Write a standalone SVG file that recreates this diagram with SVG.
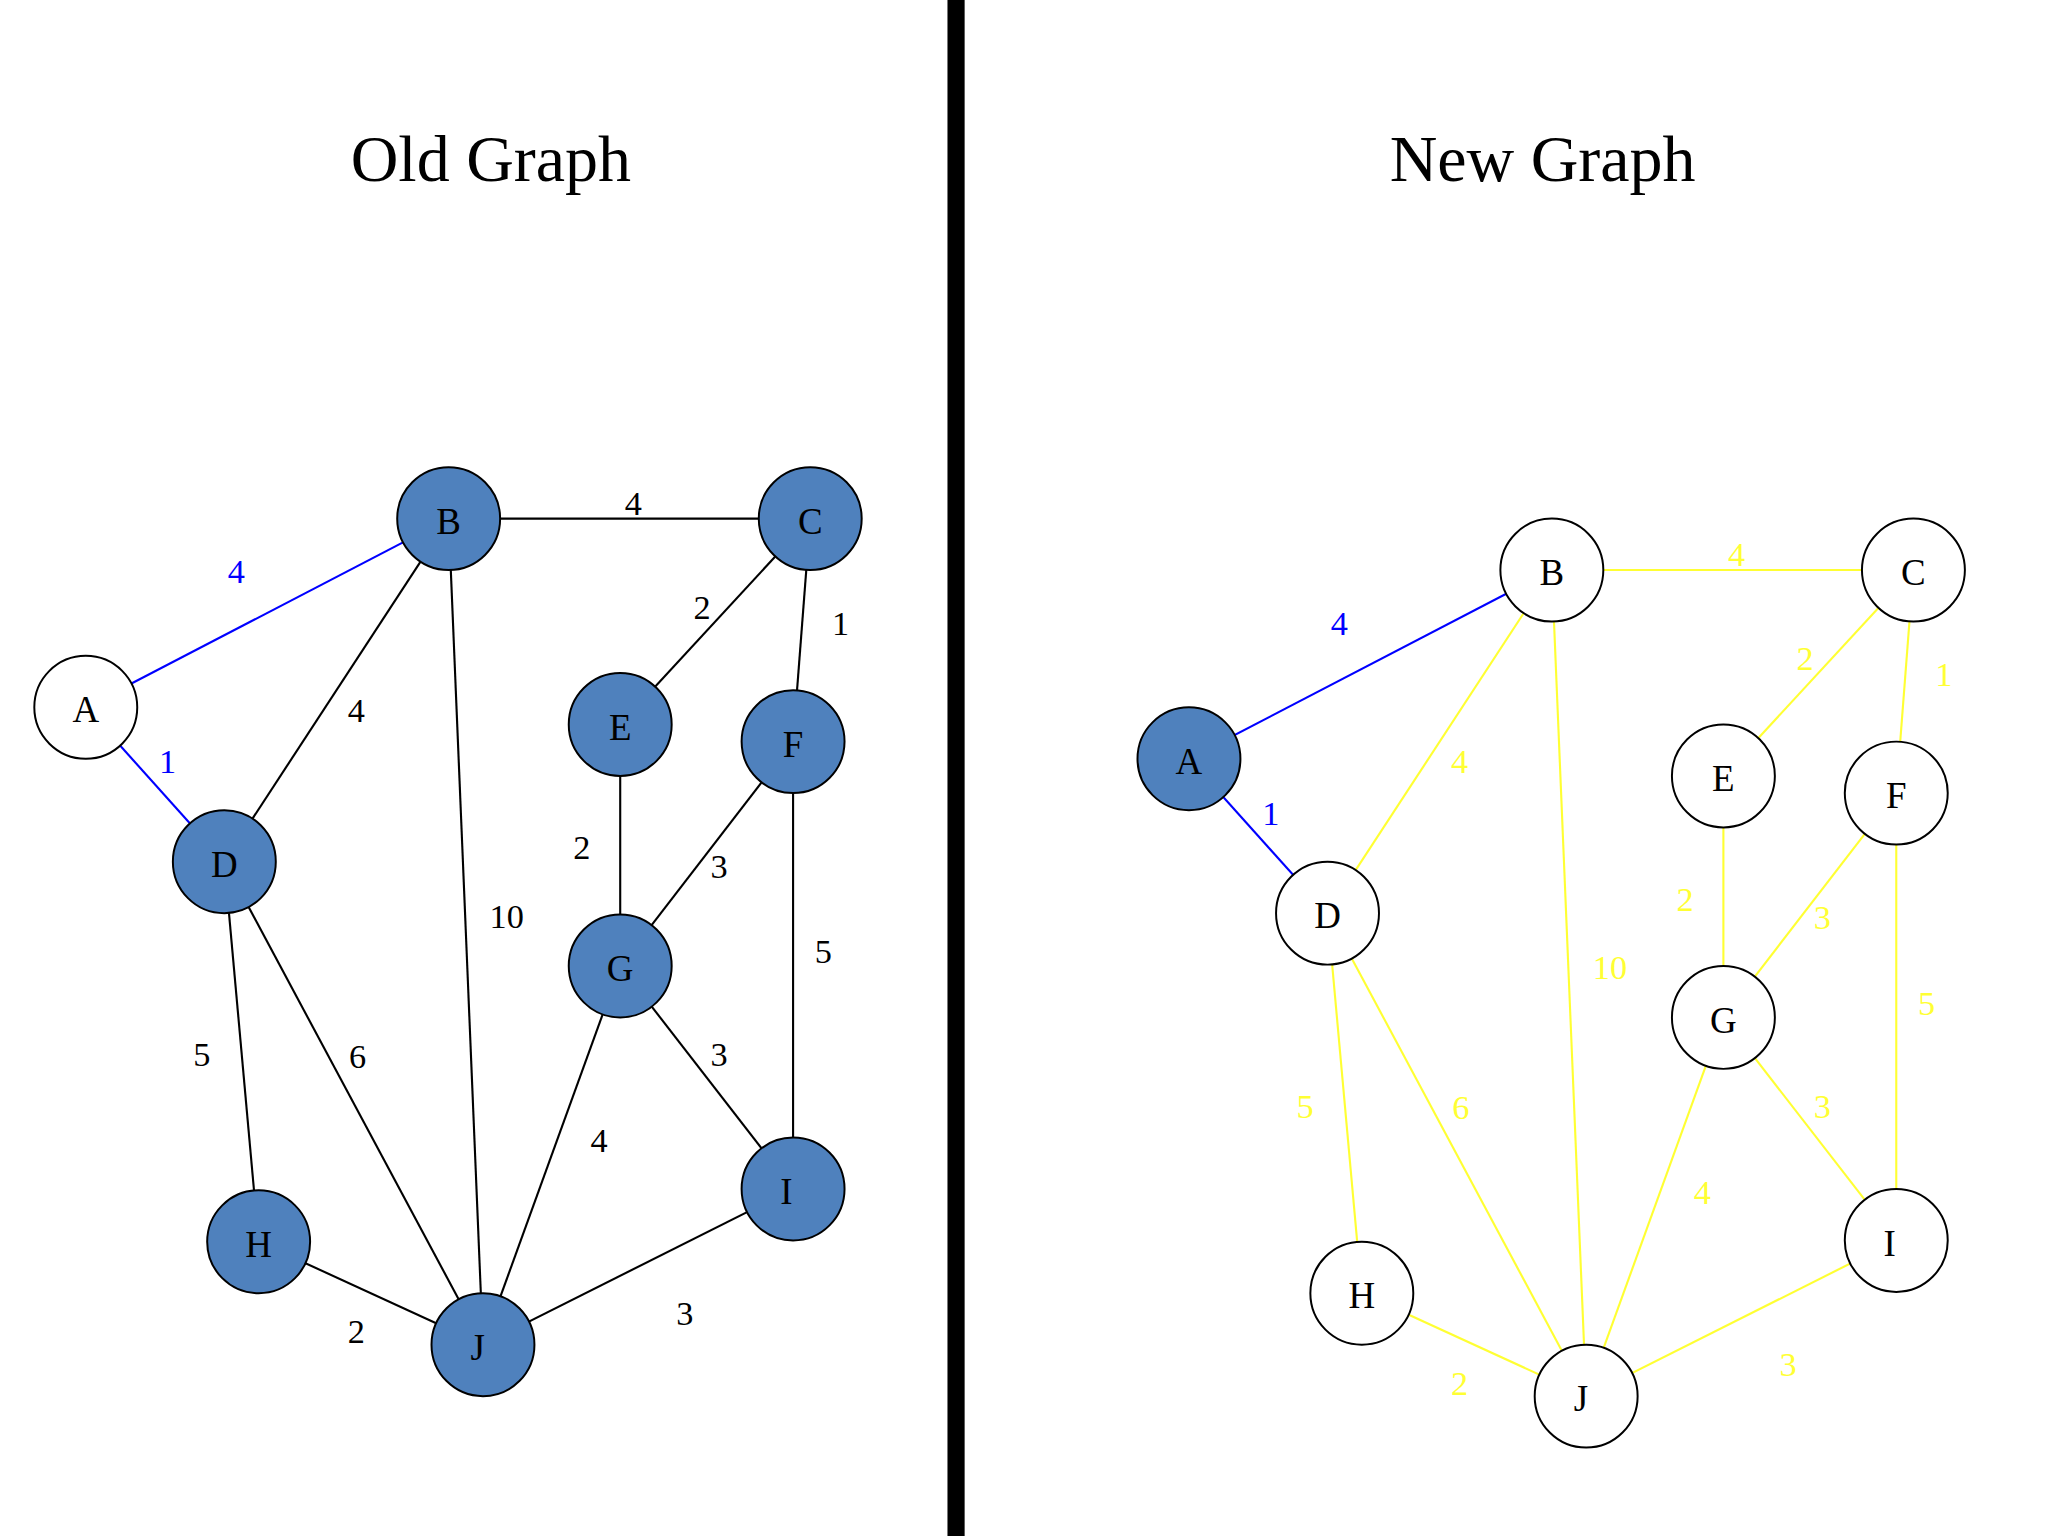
<svg xmlns="http://www.w3.org/2000/svg" width="2048" height="1536" viewBox="0 0 2048 1536">
<defs>
<style>
text{font-family:"Liberation Serif","Times New Roman",serif;text-anchor:middle;dominant-baseline:central}
.t{font-size:50px}
.n{font-size:28px}
.w{font-size:26px}
.e{stroke-width:1.6;fill:none}
.k{stroke:#000}.b{stroke:#0000ff}.y{stroke:#ffff33}
.lb{fill:#0000ff}.ly{fill:#ffff33}
.f{fill:#4f81bd;stroke:#000;stroke-width:1.5}
.o{fill:#fff;stroke:#000;stroke-width:1.5}
</style>
<g id="tmpl">
<g id="edges">
<line class="e b" x1="65" y1="536" x2="340" y2="393"/>
<line class="e b" x1="65" y1="536" x2="170" y2="653"/>
<line class="e k" x1="340" y1="393" x2="614" y2="393"/>
<line class="e k" x1="340" y1="393" x2="170" y2="653"/>
<line class="e k" x1="340" y1="393" x2="366" y2="1019"/>
<line class="e k" x1="614" y1="393" x2="470" y2="549"/>
<line class="e k" x1="614" y1="393" x2="601" y2="562"/>
<line class="e k" x1="470" y1="549" x2="470" y2="732"/>
<line class="e k" x1="601" y1="562" x2="470" y2="732"/>
<line class="e k" x1="601" y1="562" x2="601" y2="901"/>
<line class="e k" x1="170" y1="653" x2="196" y2="941"/>
<line class="e k" x1="170" y1="653" x2="366" y2="1019"/>
<line class="e k" x1="470" y1="732" x2="601" y2="901"/>
<line class="e k" x1="470" y1="732" x2="366" y2="1019"/>
<line class="e k" x1="196" y1="941" x2="366" y2="1019"/>
<line class="e k" x1="601" y1="901" x2="366" y2="1019"/>
</g>
</g>
</defs>
<rect width="2048" height="1536" fill="#fff"/>
<g transform="scale(1.3196)">
<rect x="718" y="0" width="13" height="1170" fill="#000"/>
<text class="t" x="372" y="120">Old Graph</text>
<text class="t" x="1169" y="120">New Graph</text>
<g id="old-connectors">
<line class="e b" x1="65" y1="536" x2="340" y2="393"/>
<line class="e b" x1="65" y1="536" x2="170" y2="653"/>
<line class="e k" x1="340" y1="393" x2="614" y2="393"/>
<line class="e k" x1="340" y1="393" x2="170" y2="653"/>
<line class="e k" x1="340" y1="393" x2="366" y2="1019"/>
<line class="e k" x1="614" y1="393" x2="470" y2="549"/>
<line class="e k" x1="614" y1="393" x2="601" y2="562"/>
<line class="e k" x1="470" y1="549" x2="470" y2="732"/>
<line class="e k" x1="601" y1="562" x2="470" y2="732"/>
<line class="e k" x1="601" y1="562" x2="601" y2="901"/>
<line class="e k" x1="170" y1="653" x2="196" y2="941"/>
<line class="e k" x1="170" y1="653" x2="366" y2="1019"/>
<line class="e k" x1="470" y1="732" x2="601" y2="901"/>
<line class="e k" x1="470" y1="732" x2="366" y2="1019"/>
<line class="e k" x1="196" y1="941" x2="366" y2="1019"/>
<line class="e k" x1="601" y1="901" x2="366" y2="1019"/>
<text class="w lb" x="179" y="433">4</text>
<text class="w lb" x="127" y="577">1</text>
<text class="w" x="480" y="381">4</text>
<text class="w" x="270" y="538">4</text>
<text class="w" x="384" y="694">10</text>
<text class="w" x="532" y="460">2</text>
<text class="w" x="637" y="472">1</text>
<text class="w" x="441" y="642">2</text>
<text class="w" x="545" y="656">3</text>
<text class="w" x="624" y="721">5</text>
<text class="w" x="153" y="799">5</text>
<text class="w" x="271" y="800">6</text>
<text class="w" x="545" y="799">3</text>
<text class="w" x="454" y="864">4</text>
<text class="w" x="270" y="1009">2</text>
<text class="w" x="519" y="995">3</text>
</g>
<g id="old-A"><circle class="o" cx="65" cy="536" r="39"/><text class="n" x="65" y="538">A</text></g>
<g id="old-B"><circle class="f" cx="340" cy="393" r="39"/><text class="n" x="340" y="395">B</text></g>
<g id="old-C"><circle class="f" cx="614" cy="393" r="39"/><text class="n" x="614" y="395">C</text></g>
<g id="old-D"><circle class="f" cx="170" cy="653" r="39"/><text class="n" x="170" y="655">D</text></g>
<g id="old-E"><circle class="f" cx="470" cy="549" r="39"/><text class="n" x="470" y="551">E</text></g>
<g id="old-F"><circle class="f" cx="601" cy="562" r="39"/><text class="n" x="601" y="564">F</text></g>
<g id="old-G"><circle class="f" cx="470" cy="732" r="39"/><text class="n" x="470" y="734">G</text></g>
<g id="old-H"><circle class="f" cx="196" cy="941" r="39"/><text class="n" x="196" y="943">H</text></g>
<g id="old-I"><circle class="f" cx="601" cy="901" r="39"/><text class="n" x="596" y="903">I</text></g>
<g id="old-J"><circle class="f" cx="366" cy="1019" r="39"/><text class="n" x="362" y="1021">J</text></g>
<g transform="translate(836,39)">
<g id="new-connectors">
<line class="e b" x1="65" y1="536" x2="340" y2="393"/>
<line class="e b" x1="65" y1="536" x2="170" y2="653"/>
<line class="e y" x1="340" y1="393" x2="614" y2="393"/>
<line class="e y" x1="340" y1="393" x2="170" y2="653"/>
<line class="e y" x1="340" y1="393" x2="366" y2="1019"/>
<line class="e y" x1="614" y1="393" x2="470" y2="549"/>
<line class="e y" x1="614" y1="393" x2="601" y2="562"/>
<line class="e y" x1="470" y1="549" x2="470" y2="732"/>
<line class="e y" x1="601" y1="562" x2="470" y2="732"/>
<line class="e y" x1="601" y1="562" x2="601" y2="901"/>
<line class="e y" x1="170" y1="653" x2="196" y2="941"/>
<line class="e y" x1="170" y1="653" x2="366" y2="1019"/>
<line class="e y" x1="470" y1="732" x2="601" y2="901"/>
<line class="e y" x1="470" y1="732" x2="366" y2="1019"/>
<line class="e y" x1="196" y1="941" x2="366" y2="1019"/>
<line class="e y" x1="601" y1="901" x2="366" y2="1019"/>
<text class="w lb" x="179" y="433">4</text>
<text class="w lb" x="127" y="577">1</text>
<text class="w ly" x="480" y="381">4</text>
<text class="w ly" x="270" y="538">4</text>
<text class="w ly" x="384" y="694">10</text>
<text class="w ly" x="532" y="460">2</text>
<text class="w ly" x="637" y="472">1</text>
<text class="w ly" x="441" y="642">2</text>
<text class="w ly" x="545" y="656">3</text>
<text class="w ly" x="624" y="721">5</text>
<text class="w ly" x="153" y="799">5</text>
<text class="w ly" x="271" y="800">6</text>
<text class="w ly" x="545" y="799">3</text>
<text class="w ly" x="454" y="864">4</text>
<text class="w ly" x="270" y="1009">2</text>
<text class="w ly" x="519" y="995">3</text>
</g>
<g id="new-A"><circle class="f" cx="65" cy="536" r="39"/><text class="n" x="65" y="538">A</text></g>
<g id="new-B"><circle class="o" cx="340" cy="393" r="39"/><text class="n" x="340" y="395">B</text></g>
<g id="new-C"><circle class="o" cx="614" cy="393" r="39"/><text class="n" x="614" y="395">C</text></g>
<g id="new-D"><circle class="o" cx="170" cy="653" r="39"/><text class="n" x="170" y="655">D</text></g>
<g id="new-E"><circle class="o" cx="470" cy="549" r="39"/><text class="n" x="470" y="551">E</text></g>
<g id="new-F"><circle class="o" cx="601" cy="562" r="39"/><text class="n" x="601" y="564">F</text></g>
<g id="new-G"><circle class="o" cx="470" cy="732" r="39"/><text class="n" x="470" y="734">G</text></g>
<g id="new-H"><circle class="o" cx="196" cy="941" r="39"/><text class="n" x="196" y="943">H</text></g>
<g id="new-I"><circle class="o" cx="601" cy="901" r="39"/><text class="n" x="596" y="903">I</text></g>
<g id="new-J"><circle class="o" cx="366" cy="1019" r="39"/><text class="n" x="362" y="1021">J</text></g>
</g>
</g>
</svg>
